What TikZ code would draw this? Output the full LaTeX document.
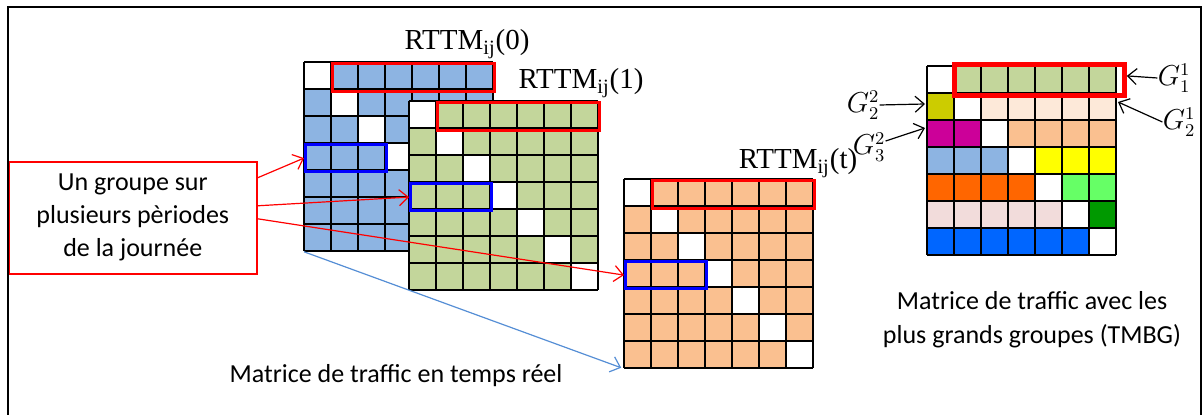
\documentclass[tikz,border=0pt]{standalone}
\usepackage{fontspec}
\setmainfont{Carlito}
\newfontfamily\timesfont{Liberation Serif}
\usepackage{tikz}
\usetikzlibrary{positioning,arrows.meta}
\definecolor{cellblue}{HTML}{8DB4E2}
\definecolor{cellgreen}{HTML}{C3D69B}
\definecolor{cellorange}{HTML}{FAC090}
\definecolor{cellpeach}{HTML}{FDE9D9}
\definecolor{cellolive}{HTML}{CCCC00}
\definecolor{cellmagenta}{HTML}{CC0099}
\definecolor{cellyellow}{HTML}{FFFF00}
\definecolor{celldarkorange}{HTML}{FF6600}
\definecolor{celllime}{HTML}{66FF66}
\definecolor{cellpink}{HTML}{F2DCDB}
\definecolor{celldarkgreen}{HTML}{009900}
\definecolor{cellroyal}{HTML}{0066FF}
\definecolor{grpblue}{HTML}{0000FF}
\definecolor{linkblue}{HTML}{558ED5}
\tikzset{
  cellline/.style={line width=0.7pt},
  rowbox/.style={draw=red,line width=1.6pt,inner sep=0pt,minimum width=81pt,minimum height=14pt,anchor=north west},
  grpbox/.style={draw=grpblue,line width=1.6pt,inner sep=0pt,minimum width=40.5pt,minimum height=13.5pt,anchor=north west},
  matbox/.style={inner sep=0pt,minimum size=94.5pt,anchor=north west},
  rttm/.style={font=\timesfont\fontsize{14.5}{17}\selectfont,inner sep=0pt},
  gname/.style={font=\fontsize{13.5}{15}\selectfont,inner sep=0pt},
  caption/.style={font=\fontsize{13}{17}\selectfont,align=center},
  notebox/.style={draw=red,line width=0.8pt,align=center,font=\fontsize{13}{16.5}\selectfont,inner sep=0pt,minimum width=124pt,minimum height=56pt,anchor=north west},
  arr/.style={-{Straight Barb[length=4.5pt,width=8pt]},line width=0.6pt},
}
\newcommand{\cellgrid}[2]{%
  \foreach \k in {0,...,7} {
    \draw[cellline] ({#1+27*\k},#2) -- ++(0,189);
    \draw[cellline] (#1,{#2+27*\k}) -- ++(189,0);
  }%
}
\newcommand{\trafficgrid}[3]{%
  \fill[#3] (#1,#2) rectangle ++(189,189);
  \foreach \k in {0,...,6}
    \fill[white] ({#1+27*\k},{#2+27*\k}) rectangle ++(27,27);
  \cellgrid{#1}{#2}%
}

\begin{document}
\begin{tikzpicture}[x=0.5pt,y=-0.5pt]
\useasboundingbox (0,0) rectangle (1204,415);
\trafficgrid{304}{62}{cellblue}
\node[matbox] (rttm0) at (304,62) {};
\node[rowbox] (row0) at (331,62) {};
\node[grpbox] (grp0) at (304,143) {};
\node[rttm] (lab0) at (467,44) {RTTM\textsubscript{ij}(0)};
\trafficgrid{409}{101}{cellgreen}
\node[matbox] (rttm1) at (409,101) {};
\node[rowbox] (row1) at (436,101) {};
\node[grpbox] (grp1) at (409,182) {};
\node[rttm] (lab1) at (581,83) {RTTM\textsubscript{ij}(1)};
\trafficgrid{624}{179}{cellorange}
\node[matbox] (rttmt) at (624,179) {};
\node[rowbox] (rowt) at (651,179) {};
\node[grpbox] (grpt) at (624,260) {};
\node[rttm] (labt) at (798,163) {RTTM\textsubscript{ij}(t)};

\fill[white] (927,66) rectangle ++(189,189);
\foreach \r/\lc/\rc in {0/white/cellgreen,1/cellolive/cellpeach,2/cellmagenta/cellorange,3/cellblue/cellyellow,4/celldarkorange/celllime,5/cellpink/celldarkgreen,6/cellroyal/white} {
  \fill[\lc] (927,{66+27*\r}) rectangle ++({27*\r},27);
  \fill[\rc] ({927+27*(\r+1)},{66+27*\r}) rectangle (1116,{93+27*\r});
}
\cellgrid{927}{66}
\node[matbox] (tmbg) at (927,66) {};
\node[rowbox,line width=2.4pt,minimum width=85pt,minimum height=15.5pt] (tmbgrow) at (952,62) {};
\coordinate (r1e) at (1118,102);
\coordinate (r1w) at (925,104);
\coordinate (r2w) at (925,128);
\node[gname] (g11) at (1174,78) {$G_1^1$};
\node[gname] (g21) at (1179,122) {$G_2^1$};
\node[gname] (g22) at (863,105) {$G_2^2$};
\node[gname] (g32) at (869,147) {$G_3^2$};
\draw[arr] (g11.west) -- ([yshift=2pt]tmbgrow.east);
\draw[arr] (g21.west) -- (r1e);
\draw[arr] (g22.east) -- (r1w);
\draw[arr] ([yshift=3pt]g32.east) -- (r2w);

\node[notebox] (note) at (8,161) {Un groupe sur\\plusieurs pèriodes\\de la journée};
\draw[arr,red] ([yshift=20pt]note.east) -- (grp0.west);
\draw[arr,red] ([yshift=6pt]note.east) -- (grp1.west);
\draw[arr,red] ([yshift=-0.5pt]note.east) -- (grpt.west);
\draw[arr,linkblue,shorten >=1.5pt] (rttm0.south west) -- (rttmt.south west);

\node[caption] (live) at (396,376) {Matrice de traffic en temps réel};
\node[caption] (tmbgcap) at (1032,320) {Matrice de traffic avec les\\plus grands groupes (TMBG)};
\draw[line width=1.3pt] (8,415) -- (8,7) -- (1201,7) -- (1201,415);
\end{tikzpicture}
\end{document}
